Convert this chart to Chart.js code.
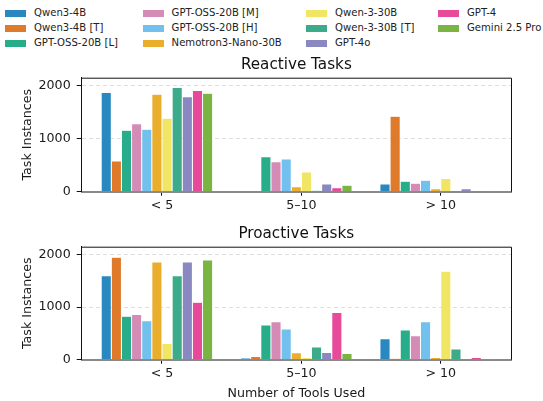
<!DOCTYPE html>
<html>
<head>
  <script src="https://cdn.jsdelivr.net/npm/chart.js@4.4.1/dist/chart.umd.min.js"></script>
  <style>
    body { margin: 0; width: 543px; height: 401px; overflow: hidden; background: #fff; position: relative; font-family: 'DejaVu Sans', sans-serif; }
    canvas { position: absolute; left: 0; }
    .lg { position: absolute; font-size: 10.1px; color: #222; white-space: nowrap; line-height: 12px; }
    .sw { position: absolute; width: 21px; height: 7px; }
  </style>
</head>
<body>
  <div id='legend'></div>
  <canvas id="reactive" width="543" height="165" style="top:50px"></canvas>
  <canvas id="proactive" width="543" height="186" style="top:215px"></canvas>

  <script>
    var categories = ['< 5', '5\u201310', '> 10'];
    var models = ['Qwen3-4B', 'Qwen3-4B [T]', 'GPT-OSS-20B [L]', 'GPT-OSS-20B [M]', 'GPT-OSS-20B [H]',
      'Nemotron3-Nano-30B', 'Qwen-3-30B', 'Qwen-3-30B [T]', 'GPT-4o', 'GPT-4', 'Gemini 2.5 Pro'];
    var colors = ['#2a88c0', '#de7a2a', '#28ad8a', '#d48cb6', '#72c0ee', '#ebae2c', '#f0e664',
      '#3cab8a', '#8a88c0', '#e84a9a', '#7ab443'];
    var yTicks = [0, 1000, 2000];

    // one row per model: [< 5, 5-10, > 10]
    var reactive = [
      [1870, 0, 143],
      [580, 0, 1422],
      [1160, 658, 199],
      [1280, 565, 161],
      [1180, 615, 217],
      [1840, 93, 56],
      [1385, 373, 248],
      [1963, 22, 18],
      [1789, 143, 56],
      [1907, 75, 18],
      [1857, 124, 15]
    ];
    var proactive = [
      [1595, 30, 399],
      [1949, 63, 25],
      [829, 658, 563],
      [861, 722, 456],
      [741, 582, 722],
      [1861, 133, 44],
      [310, 44, 1684],
      [1595, 240, 203],
      [1861, 139, 19],
      [1095, 899, 44],
      [1899, 120, 6]
    ];

    Chart.defaults.font.family = "'DejaVu Sans', sans-serif";
    Chart.defaults.color = '#1a1a1a';

    // html legend, 3 rows, filled column by column
    var colX = [5, 142.6, 306, 438];
    var rowY = [13, 28.4, 43];
    var lg = '';
    for (var i = 0; i < models.length; i++) {
      var c = Math.floor(i / 3), r = i % 3;
      lg += '<div class="sw" style="left:' + colX[c] + 'px;top:' + (rowY[r] - 3.5) + 'px;background:' + colors[i] + '"></div>';
      lg += '<div class="lg" style="left:' + (colX[c] + 29) + 'px;top:' + (rowY[r] - 6.5) + 'px">' + models[i] + '</div>';
    }
    document.getElementById('legend').innerHTML = lg;

    var boxPlugin = {
      id: 'box',
      afterDraw: function(chart) {
        var a = chart.chartArea, ctx = chart.ctx;
        ctx.save();
        ctx.strokeStyle = '#111';
        ctx.lineWidth = 1;
        ctx.beginPath();
        ctx.moveTo(a.left, a.top + 0.5);
        ctx.lineTo(a.right + 0.5, a.top + 0.5);
        ctx.lineTo(a.right + 0.5, a.bottom);
        ctx.stroke();
        ctx.restore();
      }
    };

    function makeChart(id, rows, title, titlePad, xHeight, xTitle) {
      var datasets = [];
      for (var i = 0; i < models.length; i++) {
        datasets.push({
          label: models[i],
          data: rows[i].map(function(v, k) { return { x: k, y: v }; }),
          backgroundColor: colors[i],
          borderColor: 'rgba(255,255,255,0.5)',
          borderWidth: 0.5
        });
      }
      // empty slot so the group sits half a bar left of the tick
      datasets.push({ label: '', data: [], backgroundColor: 'transparent' });

      return new Chart(document.getElementById(id), {
        type: 'bar',
        data: { datasets: datasets },
        plugins: [boxPlugin],
        options: {
          responsive: false,
          animation: false,
          categoryPercentage: 0.8727,
          barPercentage: 1,
          layout: { padding: { left: 0, right: 32, top: 0, bottom: 0 } },
          plugins: {
            legend: { display: false },
            tooltip: { enabled: false },
            title: {
              display: true, text: title, fullSize: false,
              font: { size: 15.2, weight: 'normal' }, color: '#111',
              padding: titlePad
            }
          },
          scales: {
            x: {
              type: 'linear', min: -0.576, max: 2.504, offset: false,
              afterBuildTicks: function(s) { s.ticks = categories.map(function(c, k) { return { value: k }; }); },
              afterFit: function(s) { s.height = xHeight; },
              ticks: { font: { size: 12.65 }, padding: 2, autoSkip: false, maxRotation: 0,
                callback: function(v) { return categories[v]; } },
              grid: { offset: false, drawOnChartArea: false, tickLength: 4, tickColor: '#111', tickWidth: 1 },
              border: { color: '#8a8a8a', width: 2 },
              title: { display: !!xTitle, text: xTitle || '', font: { size: 12.65 }, color: '#1a1a1a', padding: { top: 4, bottom: 0 } }
            },
            y: {
              min: 0, max: 2150,
              afterBuildTicks: function(s) { s.ticks = yTicks.map(function(v) { return { value: v }; }); },
              afterFit: function(s) { s.width = 81.7; },
              ticks: { font: { size: 12.65 }, padding: 6, callback: function(v) { return String(v); } },
              grid: {
                color: function(ctx) { return ctx.tick && ctx.tick.value === 0 ? 'rgba(0,0,0,0)' : '#dedede'; },
                lineWidth: 1, tickLength: 5, tickColor: '#111', tickWidth: 1, tickBorderDash: []
              },
              border: { color: '#111', width: 1, dash: [4, 3] },
              title: { display: true, text: 'Task Instances', font: { size: 12.65 }, color: '#1a1a1a', padding: { top: 20, bottom: 0 } }
            }
          }
        }
      });
    }

    makeChart('reactive', reactive, 'Reactive Tasks', { top: 5.9, bottom: 3.56 }, 23.3, null);
    makeChart('proactive', proactive, 'Proactive Tasks', { top: 9.9, bottom: 3.56 }, 41.3, 'Number of Tools Used');
  </script>
</body>
</html>
